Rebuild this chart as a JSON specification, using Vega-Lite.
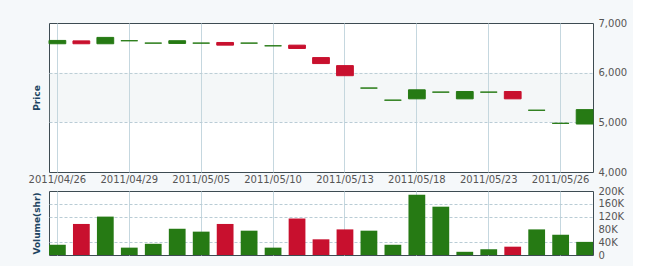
{
  "$schema": "https://vega.github.io/schema/vega-lite/v6.json",
  "background": "#f5f8fa",
  "padding": {"left": 27, "top": 17, "right": 5, "bottom": 5},
  "config": {
    "view": {"fill": "white", "stroke": "#3d4b52", "strokeWidth": 1},
    "axis": {"labelFont": "DejaVu Sans", "labelFontSize": 10, "labelColor": "#555555", "titleFont": "DejaVu Sans", "titleFontSize": 9, "titleFontWeight": "bold", "titleColor": "#1d4461"},
    "concat": {"spacing": 0}
  },
  "datasets": {
    "stock": [
      {"date": "2011/04/26", "open": 6582, "close": 6649, "volume": 32000},
      {"date": "2011/04/27", "open": 6640, "close": 6582, "volume": 97000},
      {"date": "2011/04/28", "open": 6582, "close": 6710, "volume": 120000},
      {"date": "2011/04/29", "open": 6643, "close": 6643, "volume": 23000},
      {"date": "2011/05/03", "open": 6595, "close": 6595, "volume": 35000},
      {"date": "2011/05/04", "open": 6588, "close": 6643, "volume": 82000},
      {"date": "2011/05/05", "open": 6595, "close": 6595, "volume": 73000},
      {"date": "2011/05/06", "open": 6608, "close": 6554, "volume": 97000},
      {"date": "2011/05/09", "open": 6595, "close": 6595, "volume": 76000},
      {"date": "2011/05/10", "open": 6541, "close": 6541, "volume": 23000},
      {"date": "2011/05/11", "open": 6554, "close": 6487, "volume": 114000},
      {"date": "2011/05/12", "open": 6304, "close": 6183, "volume": 49000},
      {"date": "2011/05/13", "open": 6142, "close": 5939, "volume": 80000},
      {"date": "2011/05/16", "open": 5690, "close": 5690, "volume": 76000},
      {"date": "2011/05/17", "open": 5446, "close": 5446, "volume": 32000},
      {"date": "2011/05/18", "open": 5473, "close": 5655, "volume": 188000},
      {"date": "2011/05/19", "open": 5608, "close": 5608, "volume": 151000},
      {"date": "2011/05/20", "open": 5473, "close": 5621, "volume": 10000},
      {"date": "2011/05/23", "open": 5608, "close": 5608, "volume": 18000},
      {"date": "2011/05/24", "open": 5621, "close": 5473, "volume": 26000},
      {"date": "2011/05/25", "open": 5243, "close": 5243, "volume": 80000},
      {"date": "2011/05/26", "open": 4980, "close": 4980, "volume": 63000},
      {"date": "2011/05/27", "open": 4966, "close": 5256, "volume": 41000}
    ],
    "band": [{"lo": 5000, "hi": 6000}]
  },
  "vconcat": [
    {
      "width": 544,
      "height": 149,
      "layer": [
        {
          "data": {"name": "band"},
          "mark": {"type": "rect", "color": "#c8d6de", "opacity": 0.2},
          "encoding": {
            "y": {"field": "lo", "type": "quantitative", "scale": {"domain": [4000, 7000], "nice": false, "zero": false},
              "axis": {"orient": "left", "title": "Price", "labels": false, "ticks": false, "domain": false, "values": [5000, 6000], "grid": true, "gridDash": [3, 2], "gridColor": "#b9ccd5", "titlePadding": 8}},
            "y2": {"field": "hi"}
          }
        },
        {
          "data": {"name": "stock"},
          "mark": {"type": "bar", "strokeWidth": 1},
          "encoding": {
            "x": {"field": "date", "type": "ordinal", "sort": null, "scale": {"paddingInner": 0.3, "paddingOuter": 0},
              "axis": {"values": ["2011/04/26", "2011/04/29", "2011/05/05", "2011/05/10", "2011/05/13", "2011/05/18", "2011/05/23", "2011/05/26"], "bandPosition": 0.5, "grid": true, "gridColor": "#c5d7df", "ticks": false, "domain": false, "labelAngle": 0, "labelPadding": 2, "title": null}},
            "y": {"field": "open", "type": "quantitative",
              "axis": {"orient": "right", "values": [4000, 5000, 6000, 7000], "format": ",.0f", "grid": false, "ticks": false, "domain": false, "labelPadding": 5, "title": null}},
            "y2": {"field": "close"},
            "color": {"condition": {"test": "datum.close < datum.open", "value": "#c8102e"}, "value": "#267a14"},
            "stroke": {"condition": {"test": "datum.close < datum.open", "value": "#c8102e"}, "value": "#267a14"}
          }
        }
      ],
      "resolve": {"axis": {"y": "independent"}}
    },
    {
      "width": 544,
      "height": 64,
      "data": {"name": "stock"},
      "layer": [
        {
          "mark": {"type": "bar", "opacity": 0},
          "encoding": {
            "x": {"field": "date", "type": "ordinal", "sort": null, "scale": {"paddingInner": 0.3, "paddingOuter": 0},
              "axis": {"values": ["2011/04/26", "2011/04/29", "2011/05/05", "2011/05/10", "2011/05/13", "2011/05/18", "2011/05/23", "2011/05/26"], "bandPosition": 0.5, "grid": true, "gridColor": "#c5d7df", "labels": false, "ticks": false, "domain": false, "title": null}},
            "y": {"field": "volume", "type": "quantitative", "scale": {"domain": [0, 200000], "nice": false},
              "axis": {"orient": "left", "title": "Volume(shr)", "labels": false, "ticks": false, "domain": false, "values": [40000, 120000, 160000], "grid": true, "gridDash": [3, 2], "gridColor": "#b9ccd5", "titlePadding": 8}}
          }
        },
        {
          "mark": {"type": "bar"},
          "encoding": {
            "x": {"field": "date", "type": "ordinal", "sort": null},
            "y": {"field": "volume", "type": "quantitative",
              "axis": {"orient": "right", "values": [0, 40000, 80000, 120000, 160000, 200000], "labelExpr": "datum.value == 0 ? '0' : (datum.value / 1000) + 'K'", "grid": false, "ticks": false, "domain": false, "labelPadding": 5, "title": null}},
            "color": {"condition": {"test": "datum.close < datum.open", "value": "#c8102e"}, "value": "#267a14"}
          }
        }
      ],
      "resolve": {"axis": {"y": "independent"}}
    }
  ]
}
